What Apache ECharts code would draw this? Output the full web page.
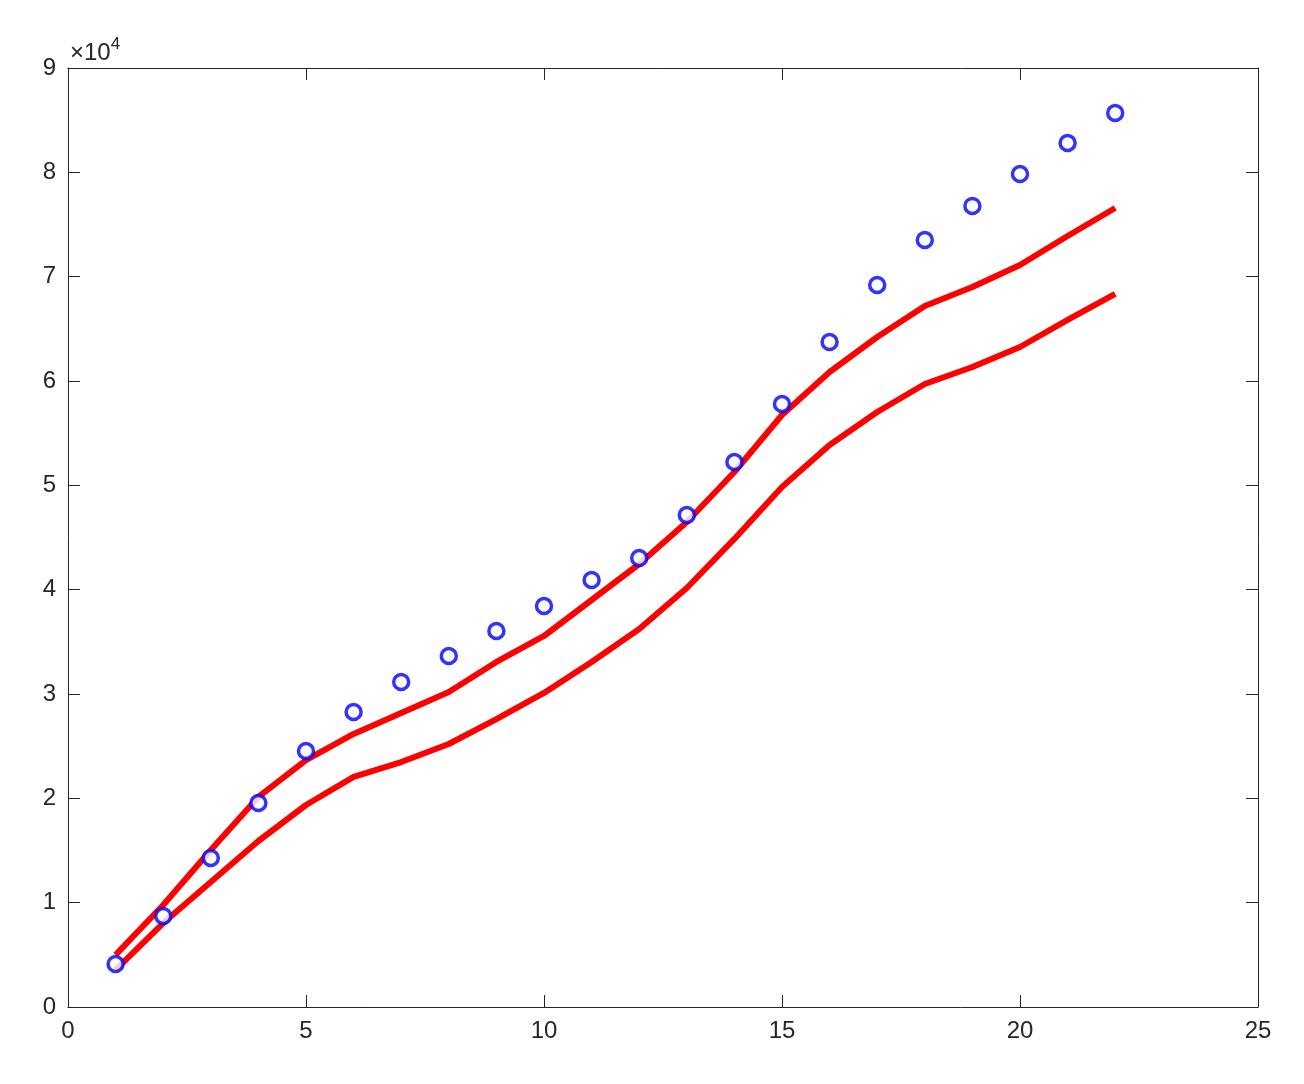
<!DOCTYPE html>
<html>
<head>
<meta charset="utf-8">
<script src="https://cdn.jsdelivr.net/npm/echarts@6/dist/echarts.min.js"></script>
<style>html,body{margin:0;padding:0;background:#fff}#chart{width:1304px;height:1084px}</style>
</head>
<body>
<div id="chart"></div>
<script>
const xs = [1,2,3,4,5,6,7,8,9,10,11,12,13,14,15,16,17,18,19,20,21,22]
const observed = [4120,8720,14280,19550,24540,28280,31150,33640,36040,38440,40930,43040,47160,52240,57800,63740,69200,73520,76780,79840,82810,85690]
const upper = [5000,9780,15050,20130,23670,26170,28180,30190,33070,35560,39010,42460,46490,51280,56740,60860,64220,67190,69010,71120,73900,76580]
const lower = [3550,8050,11980,15910,19360,22050,23480,25210,27600,30100,33070,36230,40160,44860,49840,53870,57030,59710,61340,63260,65850,68340]

const chart = echarts.init(document.getElementById('chart'))
const font = 'Helvetica, Arial, "Liberation Sans", sans-serif'
const axisBase = {
    type: 'value',
    axisLine: { show: true, onZero: false, lineStyle: { color: '#262626', width: 1 } },
    axisTick: { show: true, inside: true, length: 12, lineStyle: { color: '#262626' } },
    splitLine: { show: false },
    axisLabel: { color: '#262626', fontSize: 24, fontFamily: font, margin: 12 }
}
const pair = (arr) => xs.map((x, i) => [x, arr[i]])

chart.setOption({
    backgroundColor: '#fff',
    animation: false,
    grid: { left: 68, right: 46, top: 68, bottom: 77 },
    xAxis: [
        Object.assign({}, axisBase, { min: 0, max: 25, interval: 5, position: 'bottom' }),
        Object.assign({}, axisBase, { min: 0, max: 25, interval: 5, position: 'top', axisLabel: { show: false } })
    ],
    yAxis: [
        Object.assign({}, axisBase, { min: 0, max: 90000, interval: 10000, position: 'left',
            axisLabel: Object.assign({}, axisBase.axisLabel, { formatter: v => String(v / 10000) }) }),
        Object.assign({}, axisBase, { min: 0, max: 90000, interval: 10000, position: 'right', axisLabel: { show: false } })
    ],
    graphic: [{
        type: 'text', left: 70, top: 36,
        style: {
            text: '{a|×10}{b|4}', fill: '#262626',
            rich: {
                a: { fontSize: 24, fontFamily: font, fill: '#262626', verticalAlign: 'bottom' },
                b: { fontSize: 17, fontFamily: font, fill: '#262626', verticalAlign: 'top', padding: [0, 0, 12, 0] }
            }
        }
    }],
    series: [
        { type: 'line', data: pair(upper), symbol: 'none', lineStyle: { color: '#ff0000', width: 6 } },
        { type: 'line', data: pair(lower), symbol: 'none', lineStyle: { color: '#ff0000', width: 6 } },
        { type: 'scatter', data: pair(observed), symbol: 'circle', symbolSize: 15,
          itemStyle: { color: '#fff', borderColor: '#0000ff', borderWidth: 3.5 }, z: 5 }
    ]
})
</script>
</body>
</html>
